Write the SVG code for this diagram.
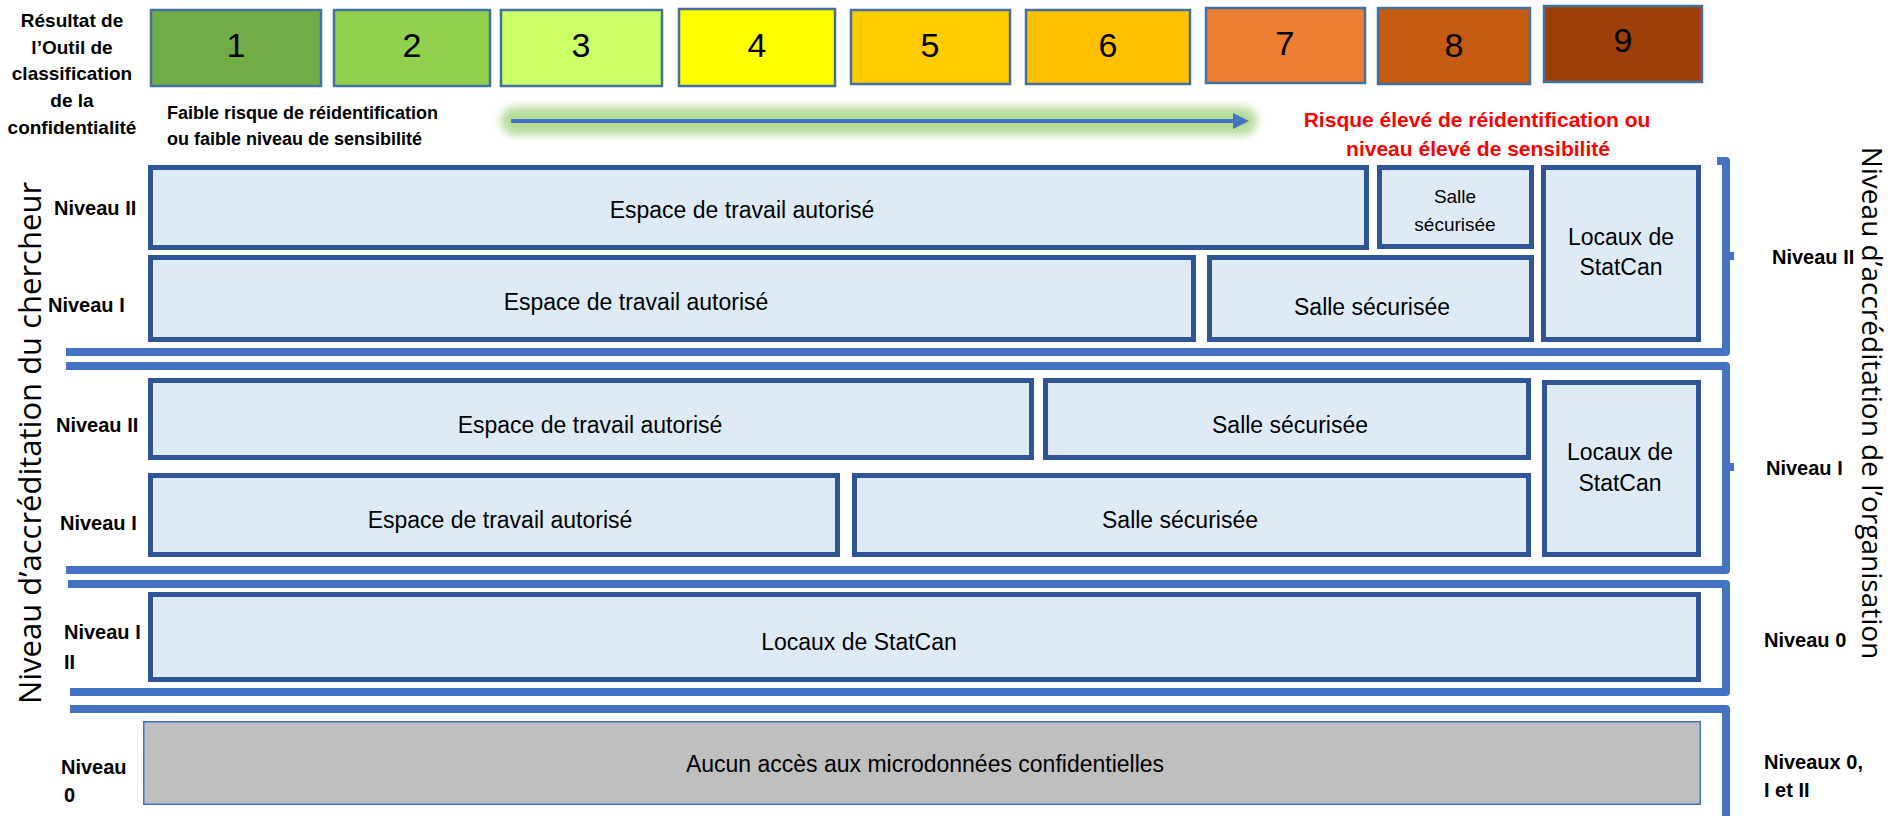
<svg xmlns="http://www.w3.org/2000/svg" width="1893" height="816" viewBox="0 0 1893 816">
<defs>
<style>
.sc{stroke:#41719C;stroke-width:2.5}
.num{font-family:"Liberation Sans",Arial,sans-serif;font-size:34px;text-anchor:middle;fill:#000}
.box{fill:#DEEBF7;stroke:#2F5597;stroke-width:5}
.gray{fill:#BFBFBF;stroke:#4472C4;stroke-width:1.5}
.bt{font-family:"Liberation Sans",Arial,sans-serif;font-size:23px;text-anchor:middle;fill:#000}
.bts{font-family:"Liberation Sans",Arial,sans-serif;font-size:19px;text-anchor:middle;fill:#000}
.lbl{font-family:"Liberation Sans",Arial,sans-serif;font-size:20px;font-weight:bold;fill:#000}
.tl{font-family:"Liberation Sans",Arial,sans-serif;font-size:19px;font-weight:bold;fill:#000;text-anchor:middle}
.fb{font-family:"Liberation Sans",Arial,sans-serif;font-size:18px;font-weight:bold;fill:#000}
.red{font-family:"Liberation Sans",Arial,sans-serif;font-size:21px;font-weight:bold;fill:#FF0000;text-anchor:middle}
.vt{font-family:"Open Sans","DejaVu Sans",sans-serif;fill:#000;text-anchor:middle}
.br{fill:none;stroke:#4472C4;stroke-width:8;stroke-linejoin:round}
</style>
<filter id="glow" filterUnits="userSpaceOnUse" x="480" y="85" width="800" height="72">
<feGaussianBlur stdDeviation="4"/>
</filter>
</defs>
<rect width="1893" height="816" fill="#FFFFFF"/>

<g id="title-label">
<text class="tl" x="72" y="27">Résultat de</text>
<text class="tl" x="72" y="54">l’Outil de</text>
<text class="tl" x="72" y="80">classification</text>
<text class="tl" x="72" y="107">de la</text>
<text class="tl" x="72" y="134">confidentialité</text>
</g>

<g id="score-1"><rect class="sc" x="151" y="10" width="170" height="76" fill="#70AD47"/><text class="num" x="236" y="57">1</text></g>
<g id="score-2"><rect class="sc" x="334" y="10" width="156" height="76" fill="#92D050"/><text class="num" x="412" y="57">2</text></g>
<g id="score-3"><rect class="sc" x="501" y="10" width="161" height="76" fill="#CCFF66"/><text class="num" x="581" y="57">3</text></g>
<g id="score-4"><rect class="sc" x="679" y="9" width="156" height="77" fill="#FFFF00"/><text class="num" x="757" y="57">4</text></g>
<g id="score-5"><rect class="sc" x="851" y="10" width="159" height="74" fill="#FFCC00"/><text class="num" x="930" y="57">5</text></g>
<g id="score-6"><rect class="sc" x="1026" y="10" width="164" height="74" fill="#FFC000"/><text class="num" x="1108" y="57">6</text></g>
<g id="score-7"><rect class="sc" x="1206" y="8" width="159" height="75" fill="#ED7D31"/><text class="num" x="1285" y="55">7</text></g>
<g id="score-8"><rect class="sc" x="1378" y="8" width="152" height="76" fill="#C55A11"/><text class="num" x="1454" y="57">8</text></g>
<g id="score-9"><rect class="sc" x="1544" y="6" width="158" height="76" fill="#9E3F0B"/><text class="num" x="1623" y="52">9</text></g>

<g id="low-risk">
<text class="fb" x="167" y="119">Faible risque de réidentification</text>
<text class="fb" x="167" y="145">ou faible niveau de sensibilité</text>
</g>

<g id="risk-arrow">
<rect x="501" y="107" width="756" height="28" rx="14" fill="#B4DC98" filter="url(#glow)"/>
<line x1="511" y1="121" x2="1236" y2="121" stroke="#4472C4" stroke-width="4"/>
<polygon points="1233,113 1249,121 1233,129" fill="#4472C4"/>
</g>

<g id="high-risk">
<text class="red" x="1477" y="127">Risque élevé de réidentification ou</text>
<text class="red" x="1478" y="156">niveau élevé de sensibilité</text>
</g>

<g id="connectors">
<path class="br" d="M1717,161 H1726 V352 H66"/>
<path class="br" d="M1726,256 H1734"/>
<path class="br" d="M66,366 H1726 V570 H66"/>
<path class="br" d="M1726,467 H1734"/>
<path class="br" d="M68,584 H1726 V692 H70"/>
<path class="br" d="M70,709 H1726 V820"/>
</g>

<g id="g1-espace-II"><rect class="box" x="150.5" y="167.5" width="1216" height="80"/><text class="bt" x="742" y="218">Espace de travail autorisé</text></g>
<g id="g1-salle-II"><rect class="box" x="1379.5" y="167.5" width="152" height="79"/><text class="bts" x="1455" y="203">Salle</text><text class="bts" x="1455" y="231">sécurisée</text></g>
<g id="g1-locaux"><rect class="box" x="1543.5" y="167.5" width="155" height="172"/><text class="bt" x="1621" y="245">Locaux de</text><text class="bt" x="1621" y="275">StatCan</text></g>
<g id="g1-espace-I"><rect class="box" x="150.5" y="257.5" width="1043" height="82"/><text class="bt" x="636" y="310">Espace de travail autorisé</text></g>
<g id="g1-salle-I"><rect class="box" x="1209.5" y="257.5" width="322" height="82"/><text class="bt" x="1372" y="315">Salle sécurisée</text></g>

<g id="g2-espace-II"><rect class="box" x="150.5" y="380.5" width="881" height="77"/><text class="bt" x="590" y="433">Espace de travail autorisé</text></g>
<g id="g2-salle-II"><rect class="box" x="1045.5" y="380.5" width="483" height="77"/><text class="bt" x="1290" y="433">Salle sécurisée</text></g>
<g id="g2-locaux"><rect class="box" x="1544.5" y="382.5" width="154" height="172"/><text class="bt" x="1620" y="460">Locaux de</text><text class="bt" x="1620" y="491">StatCan</text></g>
<g id="g2-espace-I"><rect class="box" x="150.5" y="475.5" width="687" height="79"/><text class="bt" x="500" y="528">Espace de travail autorisé</text></g>
<g id="g2-salle-I"><rect class="box" x="854.5" y="475.5" width="674" height="79"/><text class="bt" x="1180" y="528">Salle sécurisée</text></g>

<g id="g3-locaux"><rect class="box" x="150.5" y="594.5" width="1548" height="85"/><text class="bt" x="859" y="650">Locaux de StatCan</text></g>

<g id="g4-aucun"><rect class="gray" x="143.75" y="721.75" width="1556.5" height="82.5"/><text class="bt" x="925" y="772">Aucun accès aux microdonnées confidentielles</text></g>

<g id="researcher-levels">
<text class="lbl" x="54" y="215">Niveau II</text>
<text class="lbl" x="48" y="312">Niveau I</text>
<text class="lbl" x="56" y="432">Niveau II</text>
<text class="lbl" x="60" y="530">Niveau I</text>
<text class="lbl" x="64" y="639">Niveau I</text>
<text class="lbl" x="64" y="669">II</text>
<text class="lbl" x="61" y="774">Niveau</text>
<text class="lbl" x="64" y="802">0</text>
</g>

<g id="org-levels">
<text class="lbl" x="1772" y="264">Niveau II</text>
<text class="lbl" x="1766" y="475">Niveau I</text>
<text class="lbl" x="1764" y="647">Niveau 0</text>
<text class="lbl" x="1764" y="769">Niveaux 0,</text>
<text class="lbl" x="1764" y="797">I et II</text>
</g>

<g id="axis-researcher"><text class="vt" font-size="31" transform="translate(41,443) rotate(-90)">Niveau d’accréditation du chercheur</text></g>
<g id="axis-organisation"><text class="vt" font-size="28" transform="translate(1862,403) rotate(90)">Niveau d’accréditation de l’organisation</text></g>
</svg>
